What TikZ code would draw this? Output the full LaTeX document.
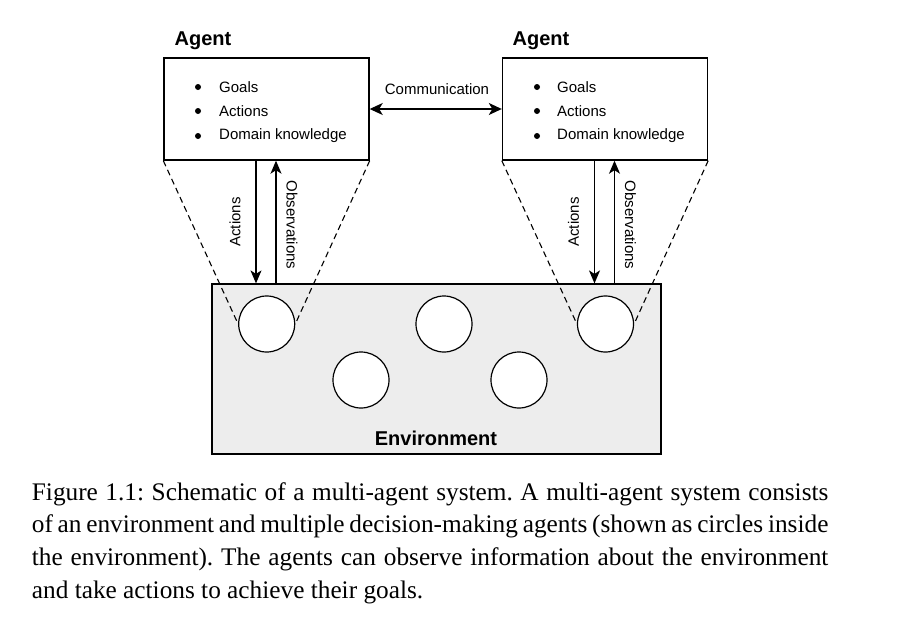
\documentclass[tikz,border=0pt]{standalone}
\usepackage{fontspec}
\setmainfont{Liberation Serif}
\setsansfont{Liberation Sans}
\usetikzlibrary{arrows.meta}
\begin{document}
\begin{tikzpicture}[x=1pt,y=-1pt,
  agentbox/.style={draw,line width=1.4pt,minimum width=205pt,minimum height=102pt,inner sep=0pt},
  agentcirc/.style={draw,circle,fill=white,line width=1.2pt,minimum size=56pt,inner sep=0pt},
  bulletdot/.style={circle,fill=black,minimum size=6pt,inner sep=0pt},
  sans/.style={font=\sffamily\fontsize{15}{18}\selectfont,inner sep=0pt},
  boldlab/.style={font=\sffamily\bfseries\fontsize{20}{24}\selectfont,inner sep=0pt},
  arr/.style={line width=1.3pt,-{Stealth[length=13pt,width=11pt,inset=3.5pt]}},
  darr/.style={line width=1.3pt,{Stealth[length=13pt,width=12pt,inset=3.5pt]}-{Stealth[length=13pt,width=12pt,inset=3.5pt]}},
  conedash/.style={line width=1.1pt,dash pattern=on 6pt off 4pt},
  captxt/.style={inner sep=0pt,anchor=base west}
]
\useasboundingbox (0,0) rectangle (924,637);
% environment
\node[draw,line width=1.2pt,fill=black!7,minimum width=449pt,minimum height=170pt,inner sep=0pt] (env) at (436.5,369) {};
\node[boldlab] (envlab) at (436,438) {Environment};
% agent boxes
\node[agentbox] (a1) at (266.5,109) {};
\node[agentbox] (a2) at (605,109) {};
\node[boldlab] (t1) at (203,41) {Agent};
\node[boldlab] (t2) at (541,41) {Agent};
% bullets
\node[bulletdot] (b11) at (198,87) {};
\node[sans,anchor=west] (i11) at (219,87) {Goals};
\node[bulletdot] (b12) at (198,111) {};
\node[sans,anchor=west] (i12) at (219,111) {Actions};
\node[bulletdot] (b13) at (198,136) {};
\node[sans,anchor=west] (i13) at (219,136) {Domain knowledge};
\node[bulletdot] (b21) at (537,87) {};
\node[sans,anchor=west] (i21) at (557,87) {Goals};
\node[bulletdot] (b22) at (537,111) {};
\node[sans,anchor=west] (i22) at (557,111) {Actions};
\node[bulletdot] (b23) at (537,136) {};
\node[sans,anchor=west] (i23) at (557,136) {Domain knowledge};
% communication
\draw[darr] (a1) -- (a2);
\node[sans] (comm) at (437,89) {Communication};
% circles
\node[agentcirc] (c1) at (266.7,324) {};
\node[agentcirc] (c2) at (444,324) {};
\node[agentcirc] (c3) at (605.5,324) {};
\node[agentcirc] (c4) at (361,380) {};
\node[agentcirc] (c5) at (519,380) {};
% dashed cones
\draw[conedash] (a1.south west) -- (c1.west);
\draw[conedash] (a1.south east) -- (c1.east);
\draw[conedash] (a2.south west) -- (c3.west);
\draw[conedash] (a2.south east) -- (c3.east);
% actions / observations
\coordinate (p1) at ([xshift=-10.5pt]a1.south);
\coordinate (q1) at ([xshift=9.5pt]a1.south);
\coordinate (p2) at ([xshift=-10.5pt]a2.south);
\coordinate (q2) at ([xshift=9.5pt]a2.south);
\draw[arr] (p1) -- (p1 |- env.north);
\draw[arr] (q1 |- env.north) -- (q1);
\draw[arr] (p2) -- (p2 |- env.north);
\draw[arr] (q2 |- env.north) -- (q2);
\node[sans,rotate=90] (la1) at (235,222) {Actions};
\node[sans,rotate=-90] (lo1) at (292,225) {Observations};
\node[sans,rotate=90] (la2) at (573.5,222) {Actions};
\node[sans,rotate=-90] (lo2) at (630.5,225) {Observations};
% caption
\node[captxt] (caption) at (31.7,500) {\parbox[t]{796.5pt}{\fontsize{25.3}{32.8}\selectfont\frenchspacing
Figure 1.1: Schematic of a multi-agent system. A multi-agent system consists\linebreak
of an environment and multiple decision-making agents (shown as circles inside\linebreak
the environment). The agents can observe information about the environment\linebreak
and take actions to achieve their goals.}};
\end{tikzpicture}
\end{document}
